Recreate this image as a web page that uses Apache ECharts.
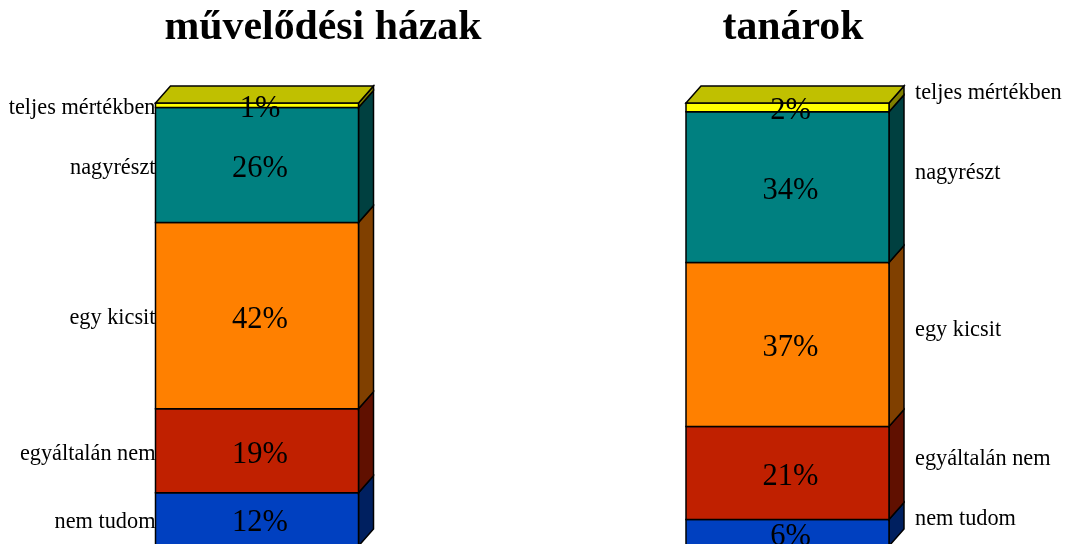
<!DOCTYPE html>
<html><head><meta charset="utf-8">
<style>html,body{margin:0;padding:0;background:#fff}#c{width:1066px;height:544px}</style>
<script src="https://cdn.jsdelivr.net/npm/echarts@6/dist/echarts.min.js"></script>
</head><body><div id="c"></div>
<script>
const chartTitles = ['művelődési házak', 'tanárok'];
const categories = ['nem tudom', 'egyáltalán nem', 'egy kicsit', 'nagyrészt', 'teljes mértékben'];
const valuesHouses = [12, 19, 42, 26, 1];
const valuesTeachers = [6, 21, 37, 34, 2];
const frontColors = ['#0040C0', '#C02000', '#FF8000', '#008080', '#FFFF00'];
const sideColors = ['#002060', '#601000', '#804000', '#004040', '#808000'];
const topColor = '#C0C000';

const FONT = '"Liberation Serif","Times New Roman",serif';
const DX = 15, DY = 17;
const EDGE = {stroke: '#000', lineWidth: 1.5};

function barSeries(values, gridIndex, labelSide) {
  const out = [];
  let base = 0;
  const rows = values.map((v, i) => { const r = {i, v, from: base, to: base + v}; base += v; return r; });
  rows.forEach(r => {
    out.push({
      type: 'custom', xAxisIndex: gridIndex, yAxisIndex: gridIndex, clip: false, z: 2 + r.i,
      silent: true, data: [[0, r.from, r.to]],
      encode: {x: 0, y: [1, 2]},
      renderItem(params, api) {
        const low = api.coord([0, api.value(1)]);
        const high = api.coord([0, api.value(2)]);
        const w = api.size([1, 0])[0];
        const xl = low[0] - w / 2, xr = low[0] + w / 2;
        const kids = [
          {type: 'polygon', shape: {points: [[xr, high[1]], [xr + DX, high[1] - DY], [xr + DX, low[1] - DY], [xr, low[1]]]},
            style: {fill: sideColors[r.i], ...EDGE}},
          {type: 'rect', shape: {x: xl, y: high[1], width: w, height: low[1] - high[1]},
            style: {fill: frontColors[r.i], ...EDGE}}
        ];
        if (r.i === values.length - 1) {
          kids.push({type: 'polygon', shape: {points: [[xl, high[1]], [xl + DX, high[1] - DY], [xr + DX, high[1] - DY], [xr, high[1]]]},
            style: {fill: topColor, ...EDGE}});
        }
        return {type: 'group', children: kids};
      }
    });
  });
  out.push({
    type: 'custom', xAxisIndex: gridIndex, yAxisIndex: gridIndex, clip: false, z: 20, silent: true,
    data: rows.map(r => [0, (r.from + r.to) / 2, r.i]),
    encode: {x: 0, y: 1},
    renderItem(params, api) {
      const i = api.value(2);
      const p = api.coord([0, api.value(1)]);
      const w = api.size([1, 0])[0];
      const nameX = labelSide === 'left' ? p[0] - w / 2 : p[0] + w / 2 + 26;
      const nameY = labelSide === 'left' ? p[1] + 3 : p[1] - 14;
      return {type: 'group', children: [
        {type: 'text', style: {text: values[i] + '%', x: p[0] + 3, y: p[1] + 4, align: 'center', verticalAlign: 'middle',
          font: '30.5px ' + FONT, fill: '#000'}},
        {type: 'text', style: {text: categories[i], x: nameX, y: nameY,
          align: labelSide === 'left' ? 'right' : 'left', verticalAlign: 'middle',
          font: '22.3px ' + FONT, fill: '#000'}}
      ]};
    }
  });
  return out;
}

const chart = echarts.init(document.getElementById('c'), null, {renderer: 'canvas'});
const hidden = {show: false};
chart.setOption({
  animation: false,
  backgroundColor: '#fff',
  title: chartTitles.map((t, i) => ({
    text: t, left: i === 0 ? 318 : 788, top: 2, textAlign: 'center',
    textStyle: {fontFamily: FONT, fontSize: 41.8, fontWeight: 'bold', color: '#000'}
  })),
  grid: [
    {left: 155.5, top: 103, width: 203, height: 443, outerBoundsMode: 'none'},
    {left: 686, top: 103, width: 203, height: 443, outerBoundsMode: 'none'}
  ],
  xAxis: [0, 1].map(g => ({gridIndex: g, type: 'category', data: [''], ...hidden})),
  yAxis: [0, 1].map(g => ({gridIndex: g, type: 'value', min: 0, max: 100, ...hidden})),
  series: [...barSeries(valuesHouses, 0, 'left'), ...barSeries(valuesTeachers, 1, 'right')]
});
</script></body></html>
